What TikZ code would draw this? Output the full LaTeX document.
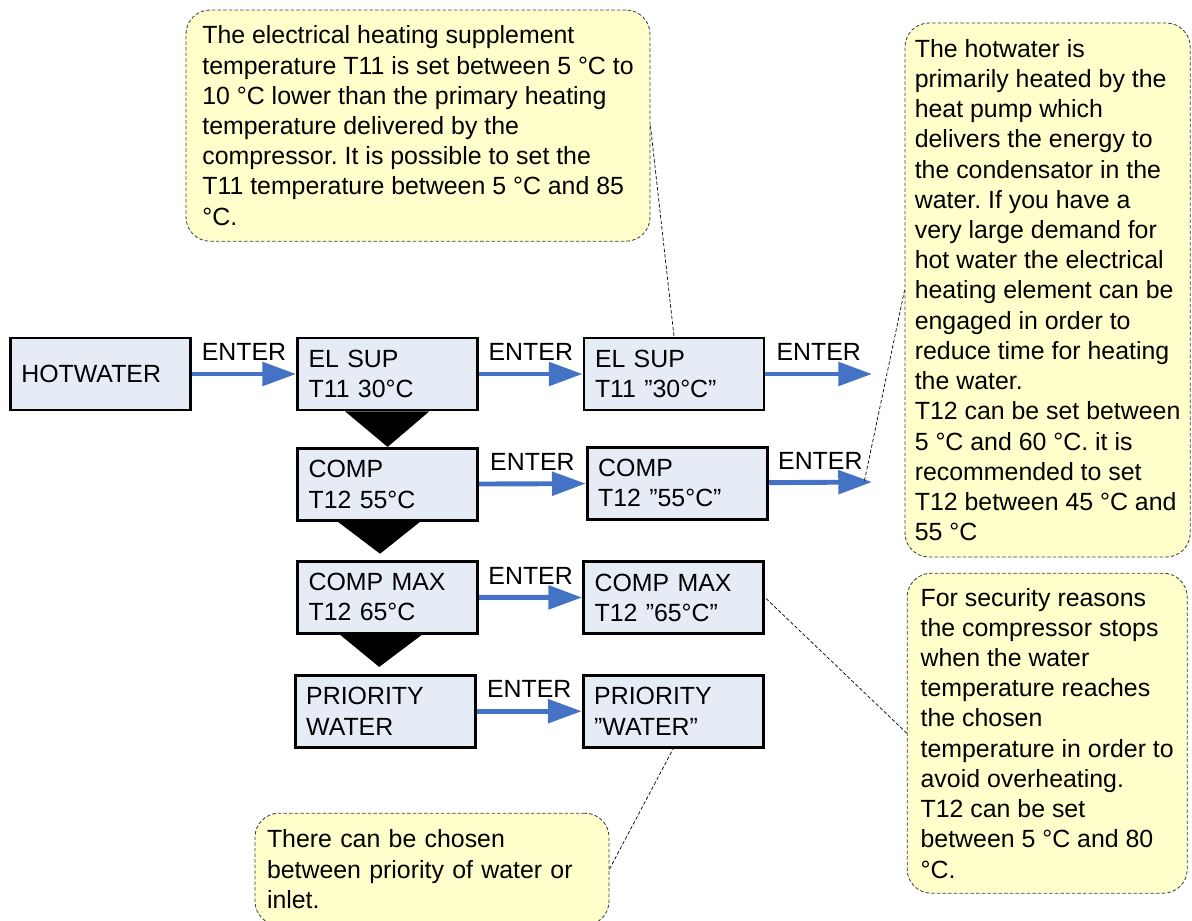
\documentclass[tikz,border=0pt]{standalone}
\usepackage{fontspec}
\setmainfont{Liberation Sans}
\usepackage{tikz}
\usetikzlibrary{arrows.meta}
\frenchspacing
\definecolor{boxblue}{RGB}{230,236,246}
\definecolor{noteyellow}{RGB}{255,255,204}
\definecolor{flowblue}{RGB}{68,114,196}
\tikzstyle{menubox}=[rectangle,draw=black,line width=2.1pt,fill=boxblue,minimum width=4.5cm,minimum height=1.8cm,text width=3.95cm,inner xsep=0.275cm,align=left]
\tikzstyle{note}=[rectangle,rounded corners=0.6cm,draw=black!75,line width=0.6pt,dash pattern=on 2.5pt off 1.5pt,fill=noteyellow,align=left]
\tikzstyle{flow}=[-{Triangle[length=24pt,width=16.5pt]},draw=flowblue,line width=3.5pt]
\tikzstyle{enter}=[above=0.27cm,inner sep=0pt]
\tikzstyle{wedge}=[fill=black]
\tikzstyle{pointer}=[-,draw=black,line width=0.5pt,dash pattern=on 2.5pt off 1.5pt]
\pgfdeclarelayer{edgelayer}
\pgfdeclarelayer{nodelayer}
\pgfsetlayers{edgelayer,nodelayer,main}

\begin{document}
\begin{tikzpicture}[font=\fontsize{17.7pt}{21.5pt}\selectfont]
	\useasboundingbox (0,0) rectangle (29.8,-23);
	\clip (0,0) rectangle (29.8,-23);
	\begin{pgfonlayer}{nodelayer}
		\node [style=menubox] (hot) at (2.51, -9.35) {HOTWATER};
		\node [style=menubox] (elsup) at (9.69, -9.35) {EL SUP\\T11 30°C};
		\node [style=menubox] (comp) at (9.69, -12.11) {COMP\\T12 55°C};
		\node [style=menubox] (compmax) at (9.69, -14.93) {COMP MAX\\T12 65°C};
		\node [style=menubox] (prio) at (9.63, -17.78) {PRIORITY\\WATER};

		\node [style=menubox] (elsupv) at (16.85, -9.35) {EL SUP\\T11 ”30°C”};
		\node [style=menubox] (compv) at (16.93, -12.08) {COMP\\T12 ”55°C”};
		\node [style=menubox] (compmaxv) at (16.84, -14.94) {COMP MAX\\T12 ”65°C”};
		\node [style=menubox] (priov) at (16.83, -17.78) {PRIORITY\\”WATER”};

		\coordinate (elout) at (21.8, -9.35);
		\coordinate (compout) at (21.8, -12.05);
		\coordinate (compnote) at (21.6, -12.07);

		\node [style=note,minimum width=11.6cm,minimum height=5.78cm] (note1) at (10.45, -3.14) {The electrical heating supplement\\temperature T11 is set between 5 °C to\\10 °C lower than the primary heating\\temperature delivered by the\\compressor. It is possible to set the\\T11 temperature between 5 °C and 85\\°C.};
		\node [style=note,minimum width=7.13cm,minimum height=13.35cm] (note2) at (26.19, -7.25) {The hotwater is\\primarily heated by the\\heat pump which\\delivers the energy to\\the condensator in the\\water. If you have a\\very large demand for\\hot water the electrical\\heating element can be\\engaged in order to\\reduce time for heating\\the water.\\T12 can be set between\\5 °C and 60 °C. it is\\recommended to set\\T12 between 45 °C and\\55 °C};
		\node [style=note,minimum width=7cm,minimum height=8cm] (note3) at (26.18, -18.33) {For security reasons\\the compressor stops\\when the water\\temperature reaches\\the chosen\\temperature in order to\\avoid overheating.\\T12 can be set\\between 5 °C and 80\\°C.};
		\node [style=note,minimum width=8.85cm,minimum height=2.8cm,text width=8.25cm] (note4) at (10.8, -21.73) {There can be chosen\\between priority of water or\\inlet.};
	\end{pgfonlayer}
	\begin{pgfonlayer}{edgelayer}
		\draw [style=flow] (hot) to node [style=enter] {ENTER} (elsup);
		\draw [style=flow] (elsup) to node [style=enter] {ENTER} (elsupv);
		\draw [style=flow] (comp) to node [style=enter] {ENTER} (compv);
		\draw [style=flow] (compmax) to node [style=enter] {ENTER} (compmaxv);
		\draw [style=flow] (prio) to node [style=enter] {ENTER} (priov);
		\draw [style=flow] (elsupv) to node [style=enter] {ENTER} (elout);
		\draw [style=flow] (compv) to node [style=enter] {ENTER} (compout);

		\fill [style=wedge] ([xshift=-1.06cm]elsup.south) -- ([xshift=1.04cm]elsup.south) -- (comp.north) -- cycle;
		\fill [style=wedge] ([xshift=-1.24cm]comp.south) -- ([xshift=0.81cm]comp.south) -- ([xshift=-0.19cm,yshift=0.15cm]compmax.north) -- cycle;
		\fill [style=wedge] ([xshift=-1.19cm]compmax.south) -- ([xshift=0.86cm]compmax.south) -- ([xshift=-0.15cm,yshift=0.17cm]prio.north) -- cycle;

		\draw [style=pointer] (note1.east) to (elsupv.north);
		\draw [style=pointer] (note2.west) to (compnote);
		\draw [style=pointer] (note3.west) to (compmaxv.east);
		\draw [style=pointer] (note4.east) to (priov.south);
	\end{pgfonlayer}
\end{tikzpicture}
\end{document}
